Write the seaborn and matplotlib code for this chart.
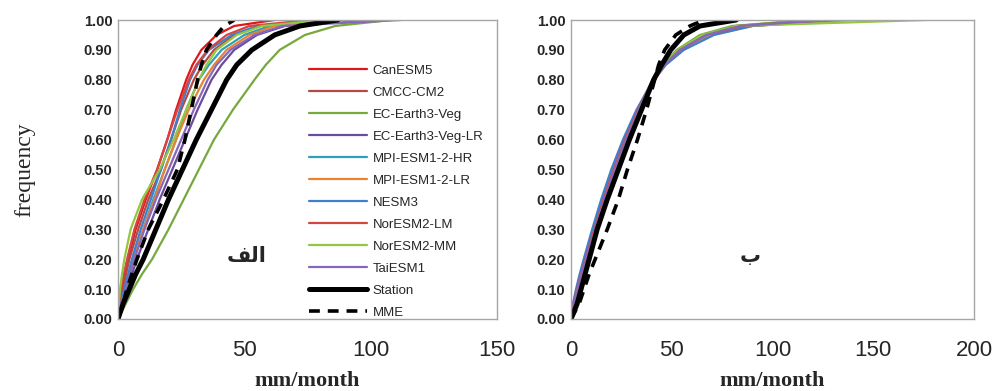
import numpy as np
import pandas as pd
import matplotlib
matplotlib.use('Agg')
import matplotlib.pyplot as plt
import seaborn as sns

# cumulative frequency levels shared by every curve
FREQ = [0, 0.05, 0.1, 0.15, 0.2, 0.3, 0.4, 0.5, 0.6, 0.7, 0.8, 0.85, 0.9, 0.95, 0.98, 1.0]

MODELS = ['CanESM5', 'CMCC-CM2', 'EC-Earth3-Veg', 'EC-Earth3-Veg-LR', 'MPI-ESM1-2-HR',
          'MPI-ESM1-2-LR', 'NESM3', 'NorESM2-LM', 'NorESM2-MM', 'TaiESM1']

COLORS = {
    'CanESM5': '#E0161B',
    'CMCC-CM2': '#B44A43',
    'EC-Earth3-Veg': '#76A83E',
    'EC-Earth3-Veg-LR': '#6A4C9C',
    'MPI-ESM1-2-HR': '#2FA0B7',
    'MPI-ESM1-2-LR': '#E98331',
    'NESM3': '#3F7FD0',
    'NorESM2-LM': '#D4463F',
    'NorESM2-MM': '#93C641',
    'TaiESM1': '#8767B9',
}

# panel "الف" : mm/month at each frequency level
left_vals = {
    'CanESM5':          [0, 0.5, 1.5, 2.7, 4.0, 7.0, 11.0, 15.5, 19.5, 23.0, 27.0, 29.5, 33.0, 39.0, 46.0, 62.0],
    'CMCC-CM2':         [0, 0.8, 2.0, 3.2, 4.5, 8.0, 12.0, 17.0, 21.0, 25.0, 30.0, 33.5, 38.0, 46.0, 56.0, 80.0],
    'EC-Earth3-Veg':    [0, 3.0, 6.0, 9.5, 13.5, 20.0, 26.0, 32.0, 38.0, 45.5, 54.0, 58.5, 64.0, 74.0, 86.0, 108.0],
    'EC-Earth3-Veg-LR': [0, 1.8, 3.5, 5.5, 7.5, 12.0, 16.5, 21.5, 26.5, 31.5, 37.0, 41.0, 46.0, 55.0, 66.0, 100.0],
    'MPI-ESM1-2-HR':    [0, 1.2, 2.8, 4.5, 6.0, 10.0, 14.0, 18.5, 23.0, 27.0, 32.0, 36.0, 41.0, 50.0, 60.0, 88.0],
    'MPI-ESM1-2-LR':    [0, 1.3, 3.0, 4.5, 6.2, 10.0, 14.5, 18.5, 23.0, 28.0, 34.0, 38.0, 43.0, 52.0, 62.0, 92.0],
    'NESM3':            [0, 1.0, 2.5, 4.0, 5.5, 9.0, 13.0, 17.0, 21.0, 24.5, 28.5, 31.5, 36.0, 45.0, 55.0, 82.0],
    'NorESM2-LM':       [0, 0.4, 1.2, 2.3, 3.6, 6.5, 10.5, 15.5, 19.5, 23.5, 28.0, 31.0, 35.5, 43.0, 52.0, 76.0],
    'NorESM2-MM':       [0, 0.3, 0.8, 1.6, 2.5, 5.0, 9.5, 16.5, 22.0, 27.0, 32.0, 35.0, 39.0, 47.0, 57.0, 82.0],
    'TaiESM1':          [0, 1.5, 3.2, 4.8, 6.5, 10.5, 15.0, 20.0, 25.0, 30.0, 35.5, 39.0, 44.5, 54.0, 65.0, 112.0],
    'Station':          [0, 2.0, 4.5, 7.0, 10.0, 15.0, 20.0, 25.5, 31.0, 37.0, 43.0, 47.0, 53.0, 62.0, 72.0, 87.0],
    'MME':              [0, 2.0, 3.5, 5.5, 7.5, 12.0, 18.0, 23.5, 26.5, 29.0, 31.5, 33.0, 35.0, 39.0, 42.0, 46.0],
}

# panel "ب"
right_vals = {
    'CanESM5':          [0, 1.2, 3.0, 5.0, 7.0, 11.5, 16.0, 21.0, 26.5, 33.0, 40.5, 45.5, 53.0, 66.0, 82.0, 120.0],
    'CMCC-CM2':         [0, 1.3, 3.2, 5.2, 7.3, 12.0, 16.5, 21.5, 27.0, 33.5, 41.0, 46.0, 54.0, 67.0, 84.0, 125.0],
    'EC-Earth3-Veg':    [0, 1.5, 3.5, 5.5, 7.8, 12.5, 17.0, 22.0, 27.5, 34.0, 41.0, 45.5, 52.5, 64.0, 80.0, 118.0],
    'EC-Earth3-Veg-LR': [0, 1.4, 3.3, 5.4, 7.6, 12.3, 17.0, 22.0, 27.5, 34.0, 41.5, 46.5, 54.0, 67.0, 85.0, 128.0],
    'MPI-ESM1-2-HR':    [0, 1.1, 2.8, 4.7, 6.8, 11.2, 15.8, 20.8, 26.5, 33.0, 41.0, 46.5, 55.0, 69.0, 88.0, 135.0],
    'MPI-ESM1-2-LR':    [0, 1.2, 3.0, 5.0, 7.0, 11.5, 16.2, 21.2, 27.0, 33.5, 41.5, 47.0, 55.5, 70.0, 90.0, 140.0],
    'NESM3':            [0, 0.9, 2.5, 4.3, 6.3, 10.5, 15.0, 20.0, 25.8, 32.5, 41.0, 47.0, 56.0, 71.0, 90.0, 132.0],
    'NorESM2-LM':       [0, 1.2, 3.0, 5.0, 7.1, 11.6, 16.2, 21.2, 26.8, 33.3, 41.0, 46.0, 54.0, 67.0, 85.0, 128.0],
    'NorESM2-MM':       [0, 1.5, 3.4, 5.5, 7.7, 12.3, 17.0, 22.0, 27.5, 33.8, 41.0, 45.8, 53.0, 65.0, 82.0, 176.0],
    'TaiESM1':          [0, 1.3, 3.2, 5.2, 7.4, 12.0, 16.6, 21.6, 27.2, 33.7, 41.2, 46.2, 54.0, 67.0, 84.0, 127.0],
    'Station':          [0, 3.0, 5.0, 7.0, 9.0, 13.0, 18.0, 23.5, 29.0, 35.0, 41.0, 45.0, 49.5, 56.0, 64.0, 82.0],
    'MME':              [0, 4.0, 6.5, 9.0, 12.0, 18.0, 23.5, 28.0, 33.0, 37.5, 41.5, 43.5, 46.5, 52.0, 59.0, 66.0],
}

LEFT_XTICKS = [0, 50, 100, 150]
RIGHT_XTICKS = [0, 50, 100, 150, 200]
YTICKS = [0, 0.1, 0.2, 0.3, 0.4, 0.5, 0.6, 0.7, 0.8, 0.9, 1.0]

# Arabic panel tags, written in shaped (presentation) form so they join properly
TAG_LEFT = '\uFED2\uFEDF\uFE8D'   # الف
TAG_RIGHT = '\u0628'              # ب


def draw_panel(ax, vals, xmax, xticks):
    for name in MODELS:
        df = pd.DataFrame({'mm': vals[name], 'freq': FREQ})
        sns.lineplot(data=df, x='mm', y='freq', ax=ax, color=COLORS[name], linewidth=1.6,
                     estimator=None, sort=False, label=name)
    df = pd.DataFrame({'mm': vals['Station'], 'freq': FREQ})
    sns.lineplot(data=df, x='mm', y='freq', ax=ax, color='black', linewidth=3.6,
                 estimator=None, sort=False, label='Station')
    df = pd.DataFrame({'mm': vals['MME'], 'freq': FREQ})
    sns.lineplot(data=df, x='mm', y='freq', ax=ax, color='black', linewidth=2.6,
                 linestyle=(0, (3, 2.2)), estimator=None, sort=False, label='MME')

    ax.set_xlim(0, xmax)
    ax.set_ylim(0, 1)
    ax.set_xticks(xticks)
    ax.set_yticks(YTICKS)
    ax.set_yticklabels([f'{v:.2f}' for v in YTICKS], fontweight='bold', fontsize=10.5,
                       family='Liberation Sans')
    ax.set_xticklabels([str(v) for v in xticks], fontsize=16, family='Liberation Sans')
    ax.tick_params(axis='x', length=0, pad=15)
    ax.tick_params(axis='y', length=0, pad=4)
    for sp in ax.spines.values():
        sp.set_visible(True)
        sp.set_color('#A6A6A6')
        sp.set_linewidth(1.0)
    ax.set_xlabel('mm/month', family='Liberation Serif', fontweight='bold', fontsize=16, labelpad=7)
    ax.set_ylabel('')


sns.set_style('white')
plt.rcParams['font.family'] = ['Liberation Sans', 'DejaVu Sans']

fig = plt.figure(figsize=(9.94, 3.91), dpi=100)
ax1 = fig.add_axes([118 / 994, 72 / 391, 379 / 994, 299 / 391])
ax2 = fig.add_axes([571 / 994, 72 / 391, 403 / 994, 299 / 391])

draw_panel(ax1, left_vals, 150, LEFT_XTICKS)
draw_panel(ax2, right_vals, 200, RIGHT_XTICKS)

ax1.set_ylabel('frequency', family='Liberation Serif', fontsize=17, labelpad=35)

ax1.legend(loc='upper left', bbox_to_anchor=(0.505, 0.85), frameon=False, fontsize=9.5,
           handlelength=4.4, handletextpad=0.4, labelspacing=0.74, borderpad=0, borderaxespad=0)
ax2.get_legend().remove()

ax1.text(0.34, 0.21, TAG_LEFT, transform=ax1.transAxes, ha='center', va='center',
         fontsize=15, fontweight='bold', family='DejaVu Sans')
ax2.text(0.445, 0.21, TAG_RIGHT, transform=ax2.transAxes, ha='center', va='center',
         fontsize=15, fontweight='bold', family='DejaVu Sans')

fig.savefig('out.png', dpi=100)
